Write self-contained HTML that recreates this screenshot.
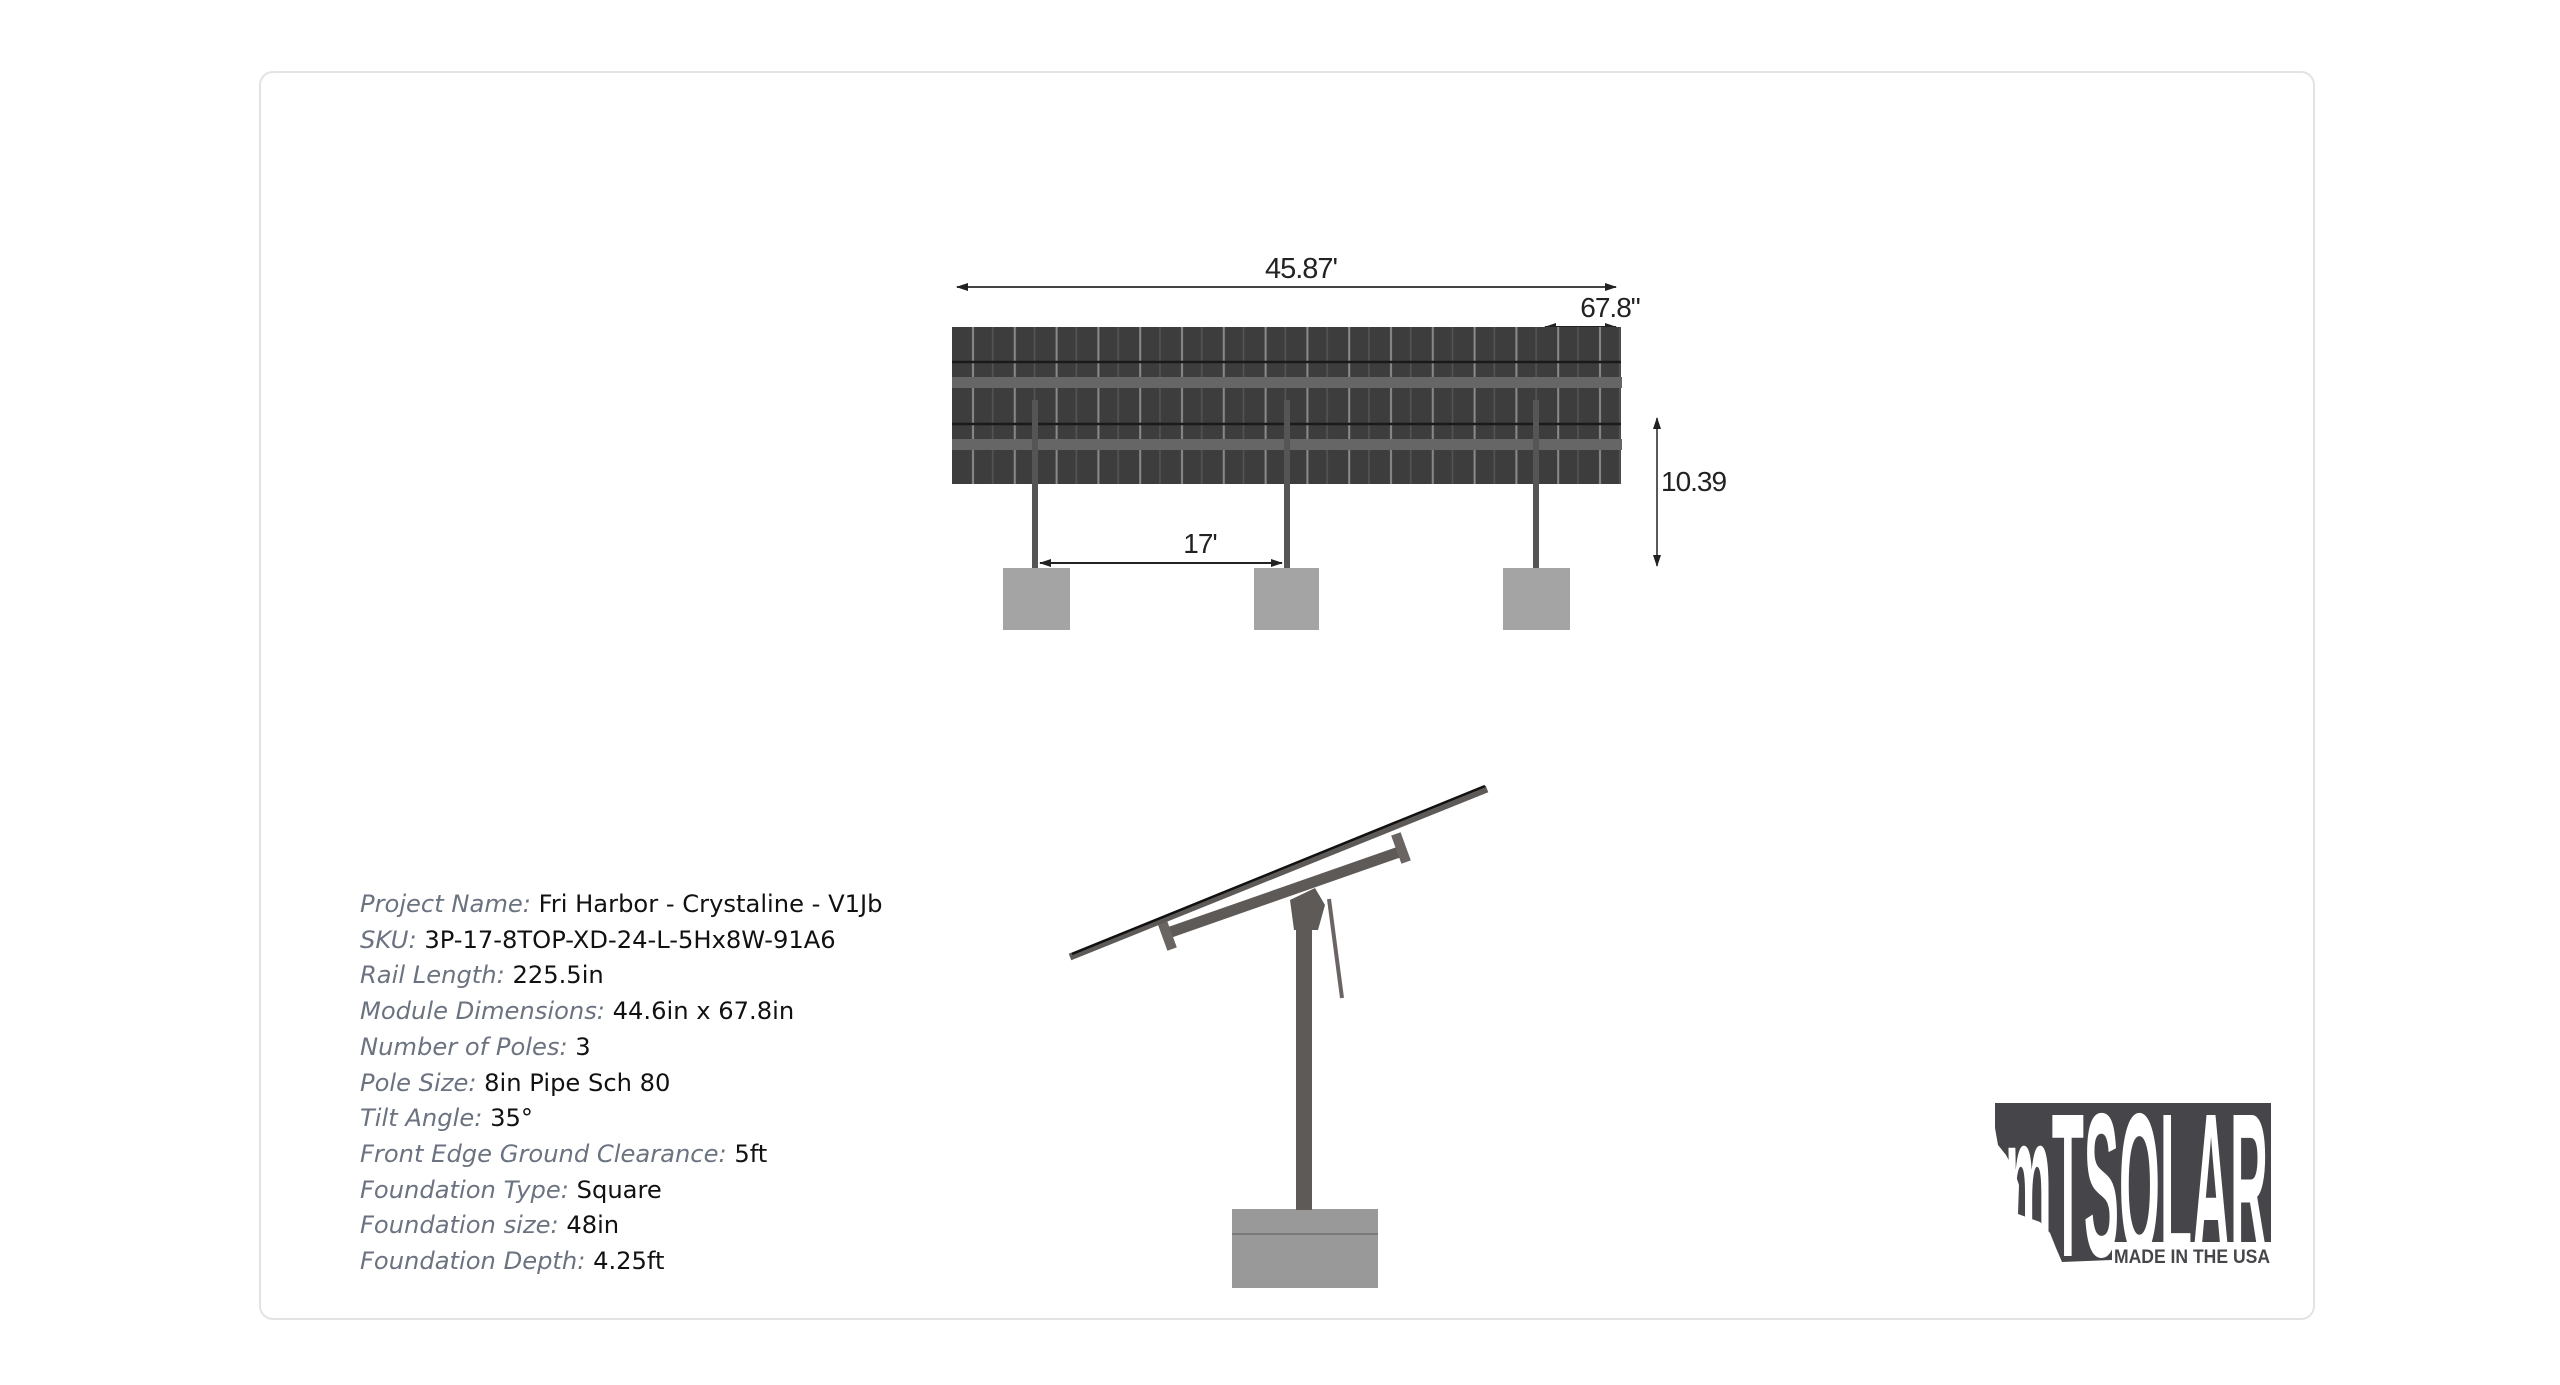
<!DOCTYPE html>
<html><head><meta charset="utf-8"><style>
html,body{margin:0;padding:0;background:#fff;}
body{width:2560px;height:1385px;position:relative;overflow:hidden;font-family:"Liberation Sans",sans-serif;}
.card{position:absolute;left:259px;top:71px;width:2056px;height:1249px;border:2px solid #e3e3e6;border-radius:14px;box-sizing:border-box;}
.info{position:absolute;left:360px;top:887px;font-family:"DejaVu Sans",sans-serif;font-size:24.2px;line-height:35.7px;color:#111;}
.info i{color:#6b7280;}
</style></head><body>
<div class="card"></div>
<svg width="2560" height="1385" style="position:absolute;left:0;top:0" font-family="Liberation Sans, sans-serif">
<defs>
<marker id="ah" markerWidth="12" markerHeight="8" refX="11" refY="4" orient="auto-start-reverse" markerUnits="userSpaceOnUse"><path d="M0,0 L12,4 L0,8 z" fill="#222"/></marker>
<pattern id="cols" x="952" y="0" width="41.8" height="10" patternUnits="userSpaceOnUse"><rect x="0" y="0" width="41.8" height="10" fill="#3d3d3d"/><rect x="20" y="0" width="2" height="10" fill="#8a8a8a"/><rect x="40" y="0" width="1.5" height="10" fill="#555"/></pattern>
</defs>
<line x1="957" y1="287" x2="1616" y2="287" stroke="#444" stroke-width="2" marker-start="url(#ah)" marker-end="url(#ah)"/>
<text x="1301" y="278" font-size="29" text-anchor="middle" fill="#222" letter-spacing="-1">45.87'</text>
<text x="1610" y="317" font-size="28" text-anchor="middle" fill="#222" letter-spacing="-1">67.8"</text>
<line x1="1545" y1="327" x2="1616" y2="327" stroke="#222" stroke-width="2" marker-start="url(#ah)" marker-end="url(#ah)"/>
<rect x="952" y="327" width="669" height="157" fill="url(#cols)"/>
<g stroke="#1a1a1a" stroke-width="2.5"><line x1="952" y1="362" x2="1621" y2="362"/><line x1="952" y1="424" x2="1621" y2="424"/></g>
<rect x="952" y="377" width="670" height="11" fill="#666"/>
<rect x="952" y="439" width="670" height="11" fill="#666"/>
<g fill="#555"><rect x="1032" y="400" width="6" height="170"/><rect x="1284" y="400" width="6" height="170"/><rect x="1533" y="400" width="6" height="170"/></g>
<g fill="#a4a4a4"><rect x="1003" y="568" width="67" height="62"/><rect x="1254" y="568" width="65" height="62"/><rect x="1503" y="568" width="67" height="62"/></g>
<line x1="1040" y1="563" x2="1282" y2="563" stroke="#222" stroke-width="2" marker-start="url(#ah)" marker-end="url(#ah)"/>
<text x="1200" y="553" font-size="28" text-anchor="middle" fill="#222" letter-spacing="-1">17'</text>
<line x1="1657" y1="418" x2="1657" y2="566" stroke="#222" stroke-width="1.5" marker-start="url(#ah)" marker-end="url(#ah)"/>
<text x="1661" y="491" font-size="28" fill="#222" letter-spacing="-1">10.39</text>
<rect x="1232" y="1209" width="146" height="79" fill="#999"/>
<line x1="1232" y1="1234" x2="1378" y2="1234" stroke="#7a7a7a" stroke-width="2"/>
<rect x="1296" y="905" width="16" height="305" fill="#5e5a58"/>
<line x1="1329" y1="899" x2="1342" y2="998" stroke="#6a6563" stroke-width="4"/>
<polygon points="1290,900 1315,888 1325,905 1318,930 1294,930" fill="#5e5a58"/>
<line x1="1165" y1="934" x2="1405" y2="850" stroke="#5e5a58" stroke-width="11"/>
<rect x="1162" y="920" width="10" height="30" fill="#6a6563" transform="rotate(-20 1167 935)"/>
<rect x="1396" y="833" width="10" height="30" fill="#6a6563" transform="rotate(-20 1401 848)"/>
<line x1="1070" y1="957" x2="1487" y2="789" stroke="#5e5a58" stroke-width="7"/>
<line x1="1072" y1="954" x2="1485" y2="786" stroke="#111" stroke-width="2.5"/>
<path d="M1995,1103 L2271,1103 L2271,1242 L2112,1242 L2112,1260 L2062,1262 L2056,1248 L2050,1233 L2040,1222 L2018,1214 L2019,1185 L2014,1170 L2006,1155 L1998,1145 L1995,1128 Z" fill="#46464a"/>
<text x="2005" y="1256" font-size="205" font-weight="bold" fill="#fff" textLength="263" lengthAdjust="spacingAndGlyphs">mTSOLAR</text>
<text x="2114" y="1263" font-size="19" font-weight="bold" fill="#46464a" textLength="156" lengthAdjust="spacingAndGlyphs">MADE IN THE USA</text>
</svg>
<div class="info">
<div><i>Project Name:</i> Fri Harbor - Crystaline - V1Jb</div>
<div><i>SKU:</i> 3P-17-8TOP-XD-24-L-5Hx8W-91A6</div>
<div><i>Rail Length:</i> 225.5in</div>
<div><i>Module Dimensions:</i> 44.6in x 67.8in</div>
<div><i>Number of Poles:</i> 3</div>
<div><i>Pole Size:</i> 8in Pipe Sch 80</div>
<div><i>Tilt Angle:</i> 35°</div>
<div><i>Front Edge Ground Clearance:</i> 5ft</div>
<div><i>Foundation Type:</i> Square</div>
<div><i>Foundation size:</i> 48in</div>
<div><i>Foundation Depth:</i> 4.25ft</div>
</div>
</body></html>
